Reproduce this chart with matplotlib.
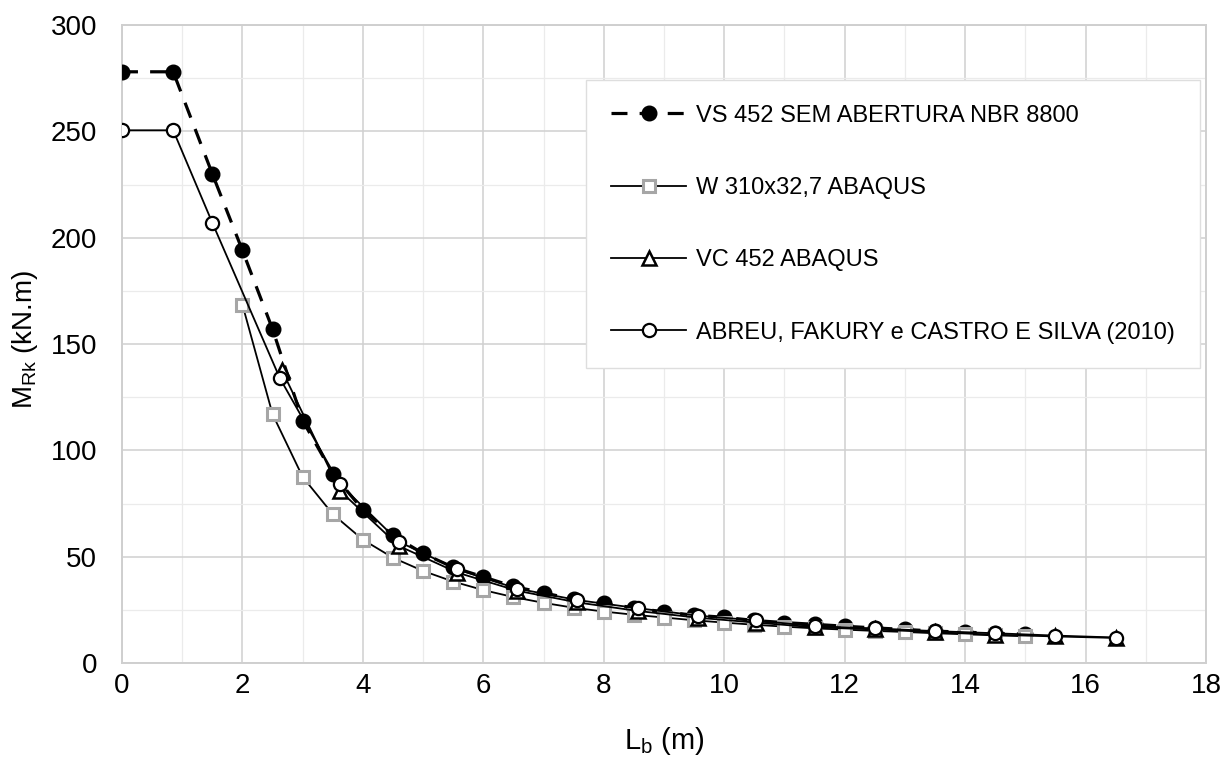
import numpy as np
import matplotlib.pyplot as plt
from matplotlib import font_manager
from matplotlib.ticker import MultipleLocator

plt.rcParams['font.family'] = ['Liberation Sans', 'DejaVu Sans']
plt.rcParams['mathtext.fontset'] = 'custom'
plt.rcParams['mathtext.rm'] = 'Liberation Sans'

# values (Lb in m, MRk in kN.m)
labels = ['VS 452 SEM ABERTURA NBR 8800', 'W 310x32,7 ABAQUS',
          'VC 452 ABAQUS', 'ABREU, FAKURY e CASTRO E SILVA (2010)']

nbr_x = [0, 0.85, 1.5, 2.0, 2.5, 3.0, 3.5, 4.0, 4.5, 5.0, 5.5, 6.0, 6.5, 7.0,
         7.5, 8.0, 8.5, 9.0, 9.5, 10.0, 10.5, 11.0, 11.5, 12.0, 12.5, 13.0,
         13.5, 14.0, 14.5, 15.0]
nbr_y = [278, 278, 230, 194, 157, 114, 89, 72, 60, 51.5, 45, 40.5, 36, 33,
         30, 28, 26, 24, 22.5, 21.5, 20, 19, 18.2, 17.3, 16.5, 15.8,
         15, 14.5, 14, 13.5]

w310_x = [2.0, 2.5, 3.0, 3.5, 4.0, 4.5, 5.0, 5.5, 6.0, 6.5, 7.0, 7.5, 8.0,
          8.5, 9.0, 9.5, 10.0, 10.5, 11.0, 11.5, 12.0, 12.5, 13.0, 13.5,
          14.0, 14.5, 15.0]
w310_y = [168.5, 117, 87.5, 70, 58, 49.5, 43.3, 38.3, 34.3, 31, 28.3, 26, 24.2,
          22.7, 21.4, 20.1, 19, 18, 17.1, 16.3, 15.7, 15.1, 14.6, 14,
          13.5, 13, 12.6]

vc_x = [2.65, 3.62, 4.6, 5.57, 6.56, 7.56, 8.56, 9.56, 10.53, 11.5, 12.5,
        13.5, 14.5, 15.5, 16.5]
vc_y = [138, 81, 55, 42.5, 34, 28.5, 24.5, 21.3, 19, 16.8, 15.8,
        14.5, 13.3, 12.5, 11.8]

abreu_x = [0, 0.85, 1.5, 2.62, 3.62, 4.6, 5.57, 6.56, 7.56, 8.56, 9.56,
           10.53, 11.5, 12.5, 13.5, 14.5, 15.5, 16.5]
abreu_y = [250.5, 250.5, 207, 134, 84, 57, 44, 35, 29.6, 25.8, 22.3,
           20, 17.3, 16.3, 15, 14, 12.9, 12]

# legend in the original is a narrow font; use it if it is there,
# otherwise shrink the normal one so the box keeps about the same width
installed = {f.name for f in font_manager.fontManager.ttflist}
if 'Liberation Sans Narrow' in installed:
    leg_font = {'family': 'Liberation Sans Narrow', 'size': 21}
    leg_space = 1.45
else:
    leg_font = {'family': 'Liberation Sans', 'size': 17}
    leg_space = 2.13

fig = plt.figure(figsize=(12.31, 7.6), dpi=100)
ax = fig.add_axes([0.0991, 0.1276, 0.8806, 0.8395])

# series drawn in legend order, later ones on top (like excel)
ax.plot(nbr_x, nbr_y, color='black', lw=2.3, ls=(0, (5, 3.8)),
        marker='o', ms=10.5, mfc='black', mec='black', label=labels[0], zorder=3)
ax.plot(w310_x, w310_y, color='black', lw=1.3, marker='s', ms=8.5,
        mfc='white', mec='#a6a6a6', mew=2.2, label=labels[1], zorder=4)
ax.plot(vc_x, vc_y, color='black', lw=1.3, marker='^', ms=10.5,
        mfc='white', mec='black', mew=1.8, label=labels[2], zorder=5)
ax.plot(abreu_x, abreu_y, color='black', lw=1.3, marker='o', ms=9.5,
        mfc='white', mec='black', mew=1.6, label=labels[3], zorder=6)

ax.set_xlim(0, 18)
ax.set_ylim(0, 300)
ax.xaxis.set_major_locator(MultipleLocator(2))
ax.xaxis.set_minor_locator(MultipleLocator(1))
ax.yaxis.set_major_locator(MultipleLocator(50))
ax.yaxis.set_minor_locator(MultipleLocator(25))
ax.grid(which='major', color='#d0d0d0', lw=1.1)
ax.grid(which='minor', color='#ebebeb', lw=0.9)
ax.set_axisbelow(True)
for s in ax.spines.values():
    s.set_color('#cfcfcf')
    s.set_linewidth(1.4)

ax.tick_params(which='both', length=0, labelsize=20)
ax.tick_params(axis='y', pad=18)
ax.tick_params(axis='x', pad=7)

ax.set_xlabel(r'L$_{\mathregular{b}}$ (m)', fontsize=21)
ax.set_ylabel(r'M$_{\mathregular{Rk}}$ (kN.m)', fontsize=20)
ax.xaxis.label.set_va('center')
ax.yaxis.label.set_va('center')
ax.xaxis.set_label_coords(0.5, -0.122)
ax.yaxis.set_label_coords(-0.0895, 0.507)

leg = ax.legend(loc='upper right', bbox_to_anchor=(0.9945, 0.914),
                borderaxespad=0, fancybox=False, framealpha=1,
                edgecolor='#dedede', handlelength=3.2, handletextpad=0.42,
                labelspacing=leg_space, borderpad=1.05, prop=leg_font)
leg.get_frame().set_linewidth(1.0)

plt.savefig('out.png', dpi=100)
